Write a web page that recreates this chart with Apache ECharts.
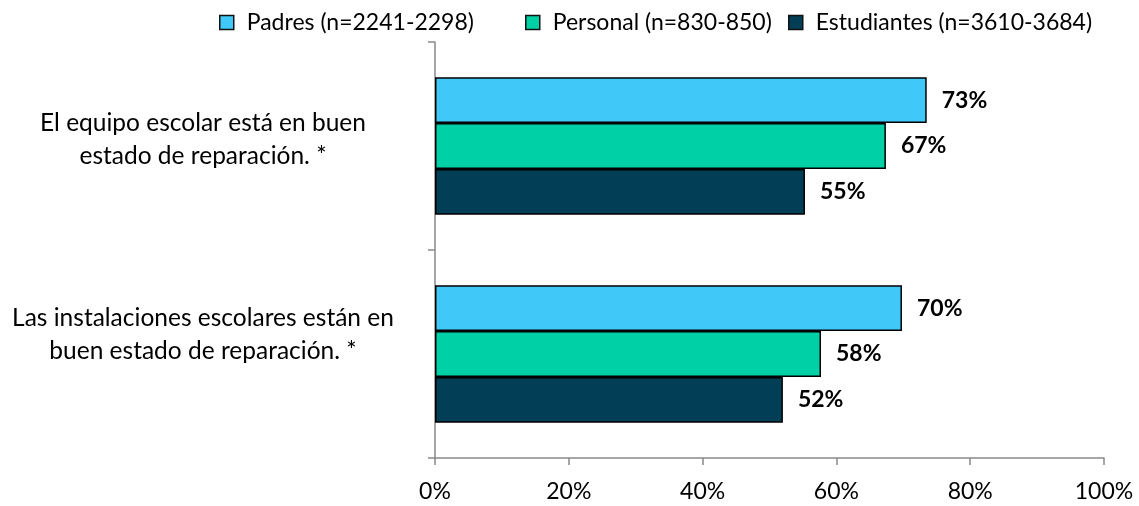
<!DOCTYPE html>
<html>
<head>
<meta charset="utf-8">
<script src="https://cdn.jsdelivr.net/npm/echarts@6/dist/echarts.min.js"></script>
<style>
  html, body { margin: 0; padding: 0; background: #fff; }
  #main { width: 1139px; height: 506px; }
</style>
</head>
<body>
<div id="main"></div>
<script>
// categorias y series
var categories = [
  'El equipo escolar está en buen\nestado de reparación. *',
  'Las instalaciones escolares están en\nbuen estado de reparación. *'
];
var seriesNames = ['Padres (n=2241-2298)', 'Personal (n=830-850)', 'Estudiantes (n=3610-3684)'];
var padres = [0.735, 0.698];
var personal = [0.674, 0.577];
var estudiantes = [0.553, 0.520];
var valueLabels = [['73%', '70%'], ['67%', '58%'], ['55%', '52%']];
var xTicks = [0, 0.2, 0.4, 0.6, 0.8, 1];

var colors = ['#40C8F8', '#00D0A5', '#023E56'];
var fontName = 'Lato';
// posicion de cada leyenda (estilo Excel, huecos desiguales)
var legendLeft = [214, 520, 783];

var myChart = echarts.init(document.getElementById('main'));

function makeSeries(idx, data) {
  return {
    name: seriesNames[idx],
    type: 'bar',
    data: data,
    barGap: '0%',
    barCategoryGap: '34%',
    itemStyle: { color: colors[idx], borderColor: '#000', borderWidth: 1.5 },
    label: {
      show: true,
      position: 'right',
      distance: 15,
      fontFamily: fontName,
      fontWeight: 'bold',
      fontSize: 23,
      color: '#000',
      formatter: function(p) { return valueLabels[idx][p.dataIndex]; }
    }
  };
}

function makeLegend(idx) {
  return {
    top: 6,
    left: legendLeft[idx],
    itemWidth: 14,
    itemHeight: 14,
    icon: 'rect',
    itemStyle: { borderColor: '#111', borderWidth: 1.5 },
    textStyle: { fontFamily: fontName, fontSize: 23, color: '#000', padding: [0, 0, 0, 8] },
    data: [seriesNames[idx]]
  };
}

var option = {
  backgroundColor: '#fff',
  animation: false,
  color: colors,
  legend: [makeLegend(0), makeLegend(1), makeLegend(2)],
  grid: { left: 435, right: 35, top: 42, bottom: 48, containLabel: false },
  xAxis: {
    type: 'value',
    min: 0,
    max: 1,
    interval: 0.2,
    axisLine: { show: true, lineStyle: { color: '#898989', width: 1.5 } },
    axisTick: { show: true, length: 7, lineStyle: { color: '#898989', width: 1.5 } },
    splitLine: { show: false },
    axisLabel: {
      fontFamily: fontName,
      fontSize: 23,
      color: '#000',
      margin: 22,
      formatter: function(v) { return Math.round(v * 100) + '%'; }
    }
  },
  yAxis: {
    type: 'category',
    inverse: true,
    data: categories,
    axisLine: { show: true, lineStyle: { color: '#898989', width: 1.5 } },
    axisTick: { show: true, length: 7, lineStyle: { color: '#898989', width: 1.5 } },
    axisLabel: {
      color: '#000',
      align: 'center',
      margin: 232,
      // linea vacia al final para subir el texto como en el original
      formatter: function(v, i) {
        var lines = v.split('\n');
        return '{a|' + lines[0] + '}\n{a|' + lines[1] + '}\n{' + (i === 0 ? 's1' : 's2') + '| }';
      },
      rich: {
        a: { fontFamily: fontName, fontSize: 24.5, lineHeight: 33, color: '#000', align: 'center' },
        s1: { fontSize: 1, lineHeight: 12 },
        s2: { fontSize: 1, lineHeight: 38 }
      }
    }
  },
  series: [
    makeSeries(0, padres),
    makeSeries(1, personal),
    makeSeries(2, estudiantes)
  ]
};

myChart.setOption(option);
</script>
</body>
</html>
